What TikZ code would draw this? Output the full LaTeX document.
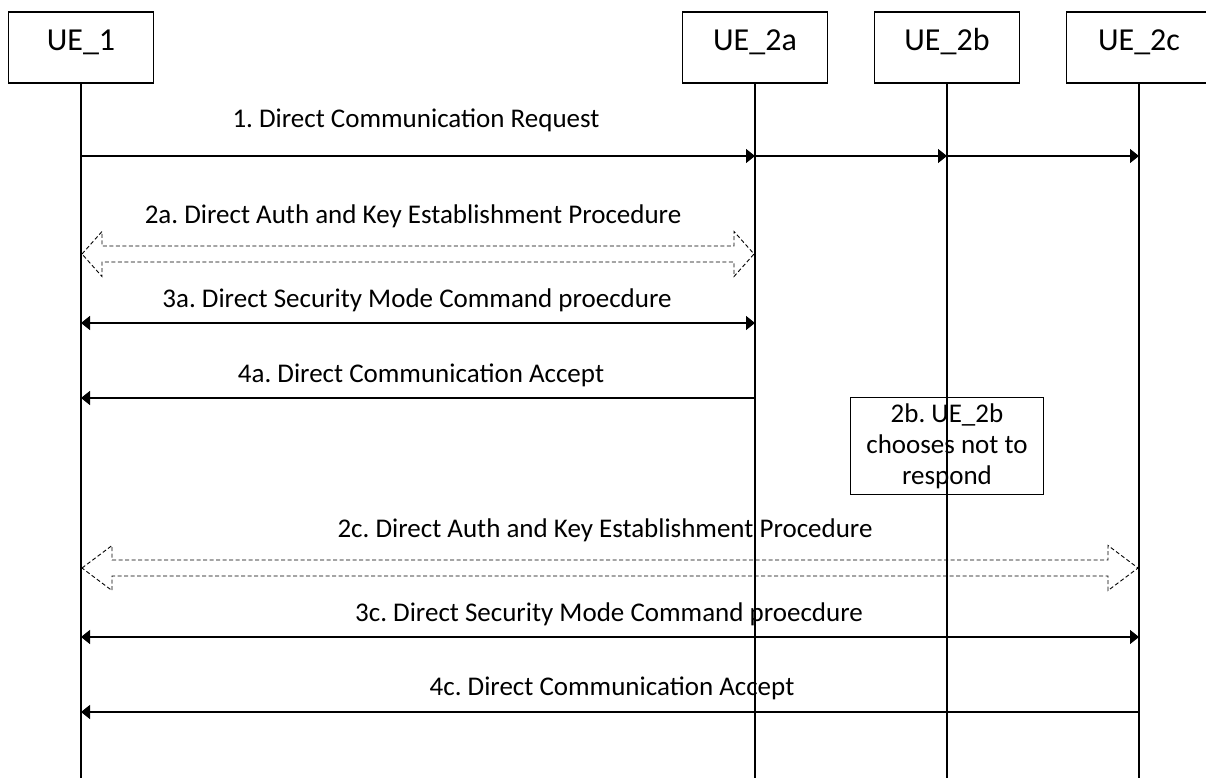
\documentclass[tikz,border=0pt]{standalone}
\usepackage{fontspec}
\setmainfont{Carlito}
\usetikzlibrary{arrows.meta}
\frenchspacing
\tikzset{
  x=1pt, y=-1pt,
  head/.style={draw, line width=1.3pt, fill=white, minimum width=145pt, minimum height=71pt, inner sep=0pt, text height=0.644em, text depth=0pt, font=\fontsize{32}{38}\selectfont},
  life/.style={line width=1.4pt},
  msg/.style={line width=1.3pt, -{Triangle[length=9pt,width=14pt]}},
  dmsg/.style={line width=1.3pt, {Triangle[length=9pt,width=14pt]}-{Triangle[length=9pt,width=14pt]}},
  lbl/.style={anchor=base, inner sep=0pt, font=\fontsize{27}{32}\selectfont},
  blk/.style={draw=black, line width=0.9pt, dash pattern=on 4pt off 2.5pt},
  note/.style={draw, line width=1.3pt, minimum width=193pt, minimum height=97pt, inner sep=0pt, align=center, font=\fontsize{27}{31}\selectfont}
}
\newcommand{\blockarrow}[6]{%
  \draw[blk] (#1,#3) -- (#1+#4,#3-#5) -- (#1+#4,#3-#6) -- (#2-#4,#3-#6) -- (#2-#4,#3-#5) -- (#2,#3) -- (#2-#4,#3+#5) -- (#2-#4,#3+#6) -- (#1+#4,#3+#6) -- (#1+#4,#3+#5) -- cycle;}
\begin{document}
\begin{tikzpicture}
\useasboundingbox (0,0) rectangle (1206,778);
\clip (0,0) rectangle (1206,778);
\fill[white] (0,0) rectangle (1206,778);
% lifeline anchors
\coordinate (l1) at (81,0);
\coordinate (l2a) at (755,0);
\coordinate (l2b) at (947,0);
\coordinate (l2c) at (1139,0);
% headers
\node[head] (u1) at (81,47.5) {UE\_1};
\node[head] (u2a) at (755,47.5) {UE\_2a};
\node[head] (u2b) at (947,47.5) {UE\_2b};
\node[head] (u2c) at (1139,47.5) {UE\_2c};
% lifelines
\coordinate (e1) at (81,778);
\coordinate (e2a) at (755,778);
\coordinate (e2b) at (947,778);
\coordinate (e2c) at (1139,778);
\draw[life] (u1.south) -- (e1);
\draw[life] (u2a.south) -- (e2a);
\draw[life] (u2b.south) -- (e2b);
\draw[life] (u2c.south) -- (e2c);
% 1
\node[lbl] (t1) at (416,128) {1. Direct Communication Request};
\draw[msg] (l1 |- 0,156) -- (l2a |- 0,156);
\draw[msg] (l2a |- 0,156) -- (l2b |- 0,156);
\draw[msg] (l2b |- 0,156) -- (l2c |- 0,156);
% 2a
\node[lbl] (t2a) at (413,223) {2a. Direct Auth and Key Establishment Procedure};
\blockarrow{82}{754}{254}{20}{22.5}{8}
% 3a
\node[lbl] (t3a) at (417,307) {3a. Direct Security Mode Command proecdure};
\draw[dmsg] (l1 |- 0,323) -- (l2a |- 0,323);
% 4a
\node[lbl] (t4a) at (421,382) {4a. Direct Communication Accept};
\draw[msg] (l2a |- 0,398) -- (l1 |- 0,398);
% 2b note
\node[note] (n2b) at (947,445.8) {2b. UE\_2b\\chooses not to\\respond};
\draw[life] (l2b |- n2b.north) -- (l2b |- n2b.south);
% 2c
\node[lbl] (t2c) at (605,537) {2c. Direct Auth and Key Establishment Procedure};
\blockarrow{82}{1138}{568}{30}{22.5}{8}
% 3c
\node[lbl] (t3c) at (609,621) {3c. Direct Security Mode Command proecdure};
\draw[dmsg] (l1 |- 0,637) -- (l2c |- 0,637);
% 4c
\node[lbl] (t4c) at (612,695) {4c. Direct Communication Accept};
\draw[msg] (l2c |- 0,712) -- (l1 |- 0,712);
\end{tikzpicture}
\end{document}
